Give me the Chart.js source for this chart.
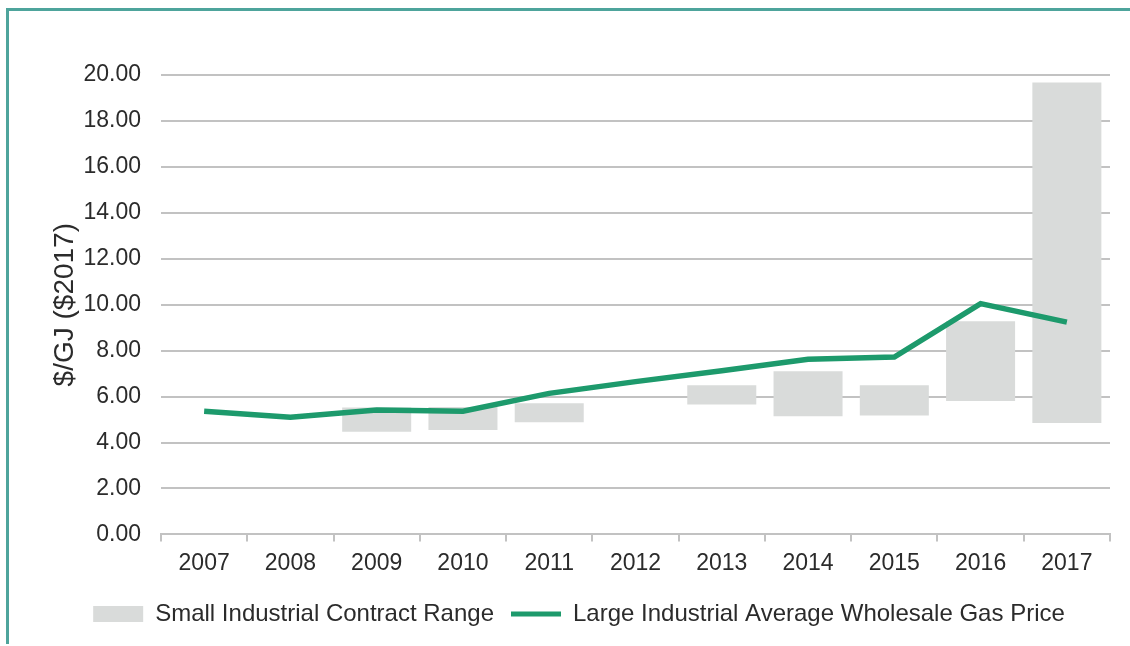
<!DOCTYPE html>
<html>
<head>
<meta charset="utf-8">
<script src="https://cdn.jsdelivr.net/npm/chart.js@4.4.0/dist/chart.umd.min.js"></script>
<style>
  html, body { margin: 0; padding: 0; background: #fff; }
  #wrap { position: relative; width: 1130px; height: 646px; }
  #frame { position: absolute; left: 6px; top: 8px; right: -10px; bottom: 2px;
           border-top: 3px solid #4ea49c; border-left: 3px solid #4ea49c; pointer-events: none; }
  canvas { position: absolute; left: 0; top: 0; }
</style>
</head>
<body>
<div id="wrap">
  <canvas id="gas" width="1130" height="646"></canvas>
  <div id="frame"></div>
</div>
<script>
const years = ['2007', '2008', '2009', '2010', '2011', '2012', '2013', '2014', '2015', '2016', '2017'];
// Small industrial contract range: low / high ends ($/GJ)
const rangeLow  = [null, null, 4.47, 4.55, 4.88, null, 5.66, 5.14, 5.18, 5.81, 4.85];
const rangeHigh = [null, null, 5.53, 5.55, 5.71, null, 6.49, 7.10, 6.49, 9.28, 19.67];
// Large industrial average wholesale gas price
const wholesale = [5.36, 5.10, 5.42, 5.36, 6.14, 6.65, 7.12, 7.62, 7.72, 10.05, 9.24];

const ranges = rangeLow.map((lo, i) => (lo === null ? null : [lo, rangeHigh[i]]));

const ctx = document.getElementById('gas');
const textColor = '#2b2b2b';
const gridColor = '#c2c2c2';
const grey = '#d9dbda';
const green = '#1d9a6c';

new Chart(ctx, {
  type: 'bar',
  data: {
    labels: years,
    datasets: [{
      type: 'line',
      label: 'Large Industrial Average Wholesale Gas Price',
      data: wholesale,
      borderColor: green,
      backgroundColor: green,
      borderWidth: 5.5,
      pointRadius: 0,
      tension: 0,
      order: 0
    }, {
      label: 'Small Industrial Contract Range',
      data: ranges,
      backgroundColor: grey,
      borderWidth: 0,
      categoryPercentage: 1,
      barPercentage: 0.8,
      grouped: false,
      order: 1
    }]
  },
  options: {
    responsive: false,
    animation: false,
    layout: { padding: { left: 48, right: 20, top: 75, bottom: 10 } },
    plugins: {
      tooltip: { enabled: false },
      legend: {
        position: 'bottom',
        labels: {
          color: textColor,
          font: { family: 'Liberation Sans', size: 24 },
          padding: 17,
          usePointStyle: true,
          pointStyleWidth: 50,
          boxHeight: 16,
          generateLabels(chart) {
            return [{
              text: 'Small Industrial Contract Range',
              fillStyle: grey, strokeStyle: grey, lineWidth: 0,
              pointStyle: 'rect', datasetIndex: 1, fontColor: textColor
            }, {
              text: 'Large Industrial Average Wholesale Gas Price',
              fillStyle: green, strokeStyle: green, lineWidth: 5,
              pointStyle: 'line', datasetIndex: 0, fontColor: textColor
            }];
          }
        }
      }
    },
    scales: {
      x: {
        offset: true,
        grid: { display: true, drawOnChartArea: false, drawTicks: true, tickLength: 7, offset: true, color: gridColor, lineWidth: 2 },
        border: { display: true, color: gridColor, width: 2 },
        ticks: { color: textColor, font: { family: 'Liberation Sans', size: 23 }, padding: 8, maxRotation: 0 }
      },
      y: {
        min: 0,
        max: 20,
        ticks: {
          stepSize: 2,
          padding: 20,
          color: textColor,
          font: { family: 'Liberation Sans', size: 23 },
          callback: v => v.toFixed(2)
        },
        grid: { color: gridColor, lineWidth: 2, drawTicks: false },
        border: { display: false },
        title: {
          display: true,
          text: '$/GJ ($2017)',
          color: textColor,
          font: { family: 'Liberation Sans', size: 28 },
          padding: { top: 0, bottom: 0 }
        },
        afterFit(scale) { scale.width = 113; }
      }
    }
  }
});
</script>
</body>
</html>
